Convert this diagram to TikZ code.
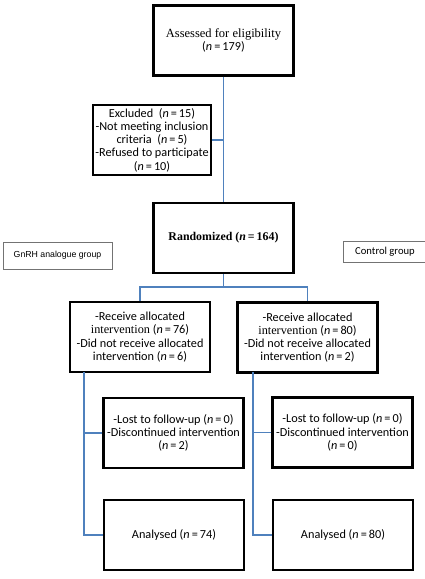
\documentclass[tikz,border=0pt]{standalone}
\usepackage{fontspec}
\setmainfont{Carlito}
\newfontfamily\timesfont{Liberation Serif}
\newfontfamily\arialfont{Liberation Sans}
\definecolor{linkblue}{RGB}{79,129,189}
\newcommand{\nval}[1]{(\textit{n}\,=\,#1)}

\begin{document}
\begin{tikzpicture}[x=0.8pt, y=-0.8pt,
    box/.style={draw=black, line width=1.8pt, align=center, inner sep=2pt,
      minimum width=112pt, minimum height=56pt,
      font=\fontsize{9.8}{10.6}\selectfont},
    groupbox/.style={draw=black!55, line width=0.6pt, inner sep=2pt,
      minimum height=21.6pt},
    link/.style={draw=linkblue, line width=1.4pt}]
    \useasboundingbox (0,0) rectangle (425,579);
    \clip (0,0) rectangle (425,579);

    % main column
    \node[box] (assess) at (223.5,40.5)
        {{\timesfont\fontsize{10}{11}\selectfont Assessed for eligibility}\\\nval{179}};
    \node[box, minimum width=91.2pt] (excl) at (152,140)
        {Excluded~~\nval{15}\\-Not meeting inclusion\\criteria~~\nval{5}\\-Refused to participate\\\nval{10}};
    \node[box] (rand) at (223.5,238)
        {{\timesfont\bfseries\fontsize{9.5}{11}\selectfont Randomized \nval{164}}};

    % group labels
    \node[groupbox, minimum width=87.2pt, font=\arialfont\fontsize{7}{8}\selectfont] (gnrh) at (57.5,255.5) {GnRH analogue group};
    \node[groupbox, minimum width=67.2pt, minimum height=16.8pt, font=\fontsize{8.5}{10}\selectfont] (ctrl) at (385,251.5) {Control group};

    % two arms
    \node[box] (rec1) at (140,337)
        {-Receive allocated\\{\timesfont intervention} \nval{76}\\-Did not receive allocated\\intervention \nval{6}};
    \node[box] (rec2) at (307.5,337.5)
        {-Receive allocated\\{\timesfont intervention} \nval{80}\\-Did not receive allocated\\intervention \nval{2}};
    \node[box] (lost1) at (173.5,433)
        {-Lost to follow-up \nval{0}\\-Discontinued intervention\\\nval{2}};
    \node[box] (lost2) at (342.5,432.5)
        {-Lost to follow-up \nval{0}\\-Discontinued intervention\\\nval{0}};
    \node[box] (ana1) at (174,535) {Analysed \nval{74}};
    \node[box] (ana2) at (343,535) {Analysed \nval{80}};

    % connectors
    \coordinate (split) at (223.5,287);
    \coordinate (lbranch) at (84,372);
    \coordinate (rbranch) at (253,372);
    \draw[link] (assess.south) -- (rand.north);
    \draw[link] (excl.east) -- (excl.east -| assess.south);
    \draw[link] (rand.south) -- (split);
    \draw[link] (rec1.north) |- (split) -| (rec2.north);
    \draw[link] (lbranch) |- (ana1.west);
    \draw[link] (lost1.west) -- (lost1.west -| lbranch);
    \draw[link] (rbranch) |- (ana2.west);
    \draw[link] (lost2.west) -- (lost2.west -| rbranch);
\end{tikzpicture}
\end{document}
